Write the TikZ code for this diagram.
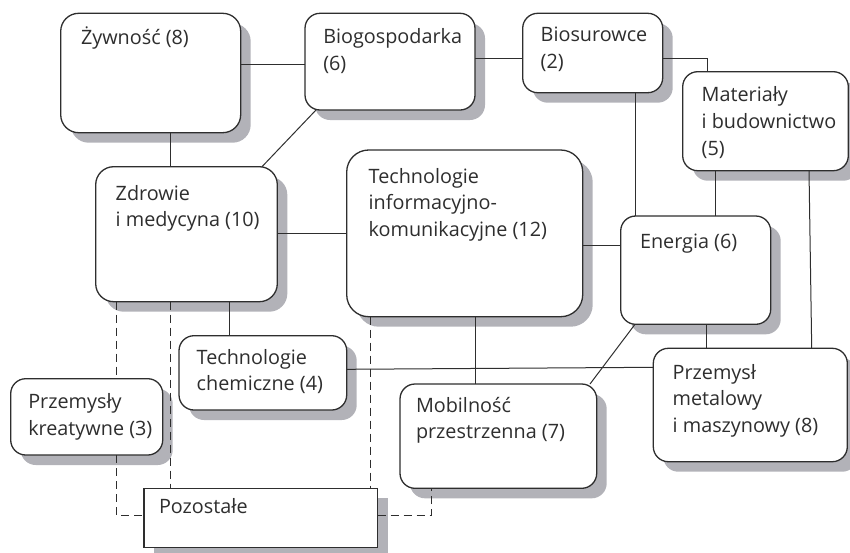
\documentclass[tikz,border=0pt]{standalone}
\usepackage{fontspec}
\setmainfont{Open Sans}
\definecolor{ink}{HTML}{2E2E2E}
\definecolor{shadowtone}{RGB}{178,178,184}
\tikzset{
  box/.style={draw=ink, line width=1.3pt, fill=white, rounded corners=15pt,
    inner sep=0pt, outer sep=0pt, anchor=north west,
    preaction={fill=shadowtone, draw=none, transform canvas={shift={(10pt,-10pt)}}}},
  lbl/.style={anchor=base west, inner sep=0pt, outer sep=0pt, text=ink, align=left,
    font=\fontsize{19.8}{26.7}\selectfont},
  link/.style={draw=ink, line width=1pt},
  dlink/.style={link, dash pattern=on 8pt off 5pt},
}
\begin{document}
\begin{tikzpicture}[x=1pt, y=-1pt]
\useasboundingbox (0,0) rectangle (850,552);
% boxes
\node[box, rounded corners=18pt, minimum width=180pt, minimum height=119.4pt] (zyw) at (60.7,13.3) {};
\node[box, minimum width=170pt, minimum height=96.7pt] (biog) at (305,13.3) {};
\node[box, minimum width=140pt, minimum height=79.4pt] (bios) at (522.7,13.3) {};
\node[box, minimum width=165.6pt, minimum height=99pt] (mat) at (682.7,71.7) {};
\node[box, rounded corners=18pt, minimum width=181.6pt, minimum height=135pt] (zdr) at (95.7,166.7) {};
\node[box, rounded corners=22pt, minimum width=236pt, minimum height=166.7pt] (tik) at (346.7,150) {};
\node[box, minimum width=150pt, minimum height=108.3pt] (en) at (620.7,216) {};
\node[box, minimum width=167.7pt, minimum height=74.3pt] (tch) at (179,335.7) {};
\node[box, minimum width=152pt, minimum height=76.3pt] (pk) at (10.7,378.7) {};
\node[box, minimum width=196.7pt, minimum height=104.3pt] (mob) at (400,384) {};
\node[box, minimum width=194pt, minimum height=113.4pt] (pm) at (653.3,348.3) {};
\node[box, rounded corners=0pt, minimum width=233.7pt, minimum height=59.4pt] (poz) at (144,488.3) {};
% labels (base anchor = baseline of last line)
\node[lbl] (zyw-t) at ([shift={(20.3,30.7)}]zyw.north west) {Żywność (8)};
\node[lbl] (biog-t) at ([shift={(18.3,56.7)}]biog.north west) {Biogospodarka\\(6)};
\node[lbl] (bios-t) at ([shift={(18,55.1)}]bios.north west) {Biosurowce\\(2)};
\node[lbl] (mat-t) at ([shift={(19,83.4)}]mat.north west) {Materiały\\i budownictwo\\(5)};
\node[lbl] (zdr-t) at ([shift={(20,60)}]zdr.north west) {Zdrowie\\i medycyna (10)};
\node[lbl] (tik-t) at ([shift={(22,86.4)}]tik.north west) {Technologie\\informacyjno-\\komunikacyjne (12)};
\node[lbl] (en-t) at ([shift={(19.3,32.3)}]en.north west) {Energia (6)};
\node[lbl] (tch-t) at ([shift={(17.7,55)}]tch.north west) {Technologie\\chemiczne (4)};
\node[lbl] (pk-t) at ([shift={(17.6,56.3)}]pk.north west) {Przemysły\\kreatywne (3)};
\node[lbl] (mob-t) at ([shift={(16,54.7)}]mob.north west) {Mobilność\\przestrzenna (7)};
\node[lbl] (pm-t) at ([shift={(19.4,84.1)}]pm.north west) {Przemysł\\metalowy\\i maszynowy (8)};
\node[lbl] (poz-t) at ([shift={(15,25)}]poz.north west) {Pozostałe};
% solid connectors
\draw[link] (zyw.east |- 0,64) -- (biog.west |- 0,64);
\draw[link] (zyw.south -| 170,0) -- (zdr.north -| 170,0);
\draw[link] (biog.south -| 316,0) -- (zdr.north -| 262,0);
\draw[link] (zdr.east |- 0,233.3) -- (tik.west |- 0,233.3);
\draw[link] (biog.east |- 0,58.3) -- (bios.west |- 0,58.3);
\draw[link] (bios.east |- 0,58.3) -| (mat.north -| 707.3,0);
\draw[link] (bios.south -| 635,0) -- (en.north -| 635,0);
\draw[link] (mat.south -| 715.7,0) -- (en.north -| 715.7,0);
\draw[link] (mat.south -| 809,0) -- (pm.north -| 811.7,0);
\draw[link] (tik.east |- 0,245) -- (en.west |- 0,245);
\draw[link] (en.south -| 706.7,0) -- (pm.north -| 706.7,0);
\draw[link] (en.south -| 635,0) -- (mob.north -| 590,0);
\draw[link] (tik.south -| 475,0) -- (mob.north -| 475,0);
\draw[link] (tch.east |- 0,369.3) -- (pm.west |- 0,367.3);
\draw[link] (zdr.south -| 229.3,0) -- (tch.north -| 229.3,0);
% dashed connectors
\draw[dlink] (zdr.south -| 116.7,0) -- (pk.north -| 116.7,0);
\draw[dlink] (pk.south -| 116.7,0) |- (poz.west |- 0,515.7);
\draw[dlink] (zdr.south -| 170,0) -- (poz.north -| 170,0);
\draw[dlink] (tik.south -| 370,0) -- (poz.north -| 370,0);
\draw[dlink] (poz.east |- 0,515.7) -| (mob.south -| 431,0);
\end{tikzpicture}
\end{document}
